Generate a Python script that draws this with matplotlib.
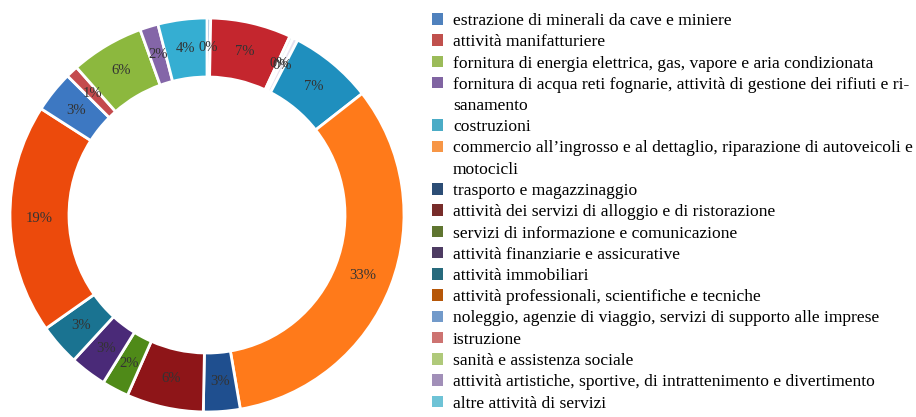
import matplotlib
matplotlib.use("Agg")
import matplotlib.pyplot as plt
from matplotlib.patches import Patch

# settori (ordine della legenda = ordine in senso orario dalle ore 12)
settori = [
    "estrazione di minerali da cave e miniere",
    "attività manifatturiere",
    "fornitura di energia elettrica, gas, vapore e aria condizionata",
    "fornitura di acqua reti fognarie, attività di gestione dei rifiuti e ri-\nsanamento",
    "costruzioni",
    "commercio all\u2019ingrosso e al dettaglio, riparazione di autoveicoli e\nmotocicli",
    "trasporto e magazzinaggio",
    "attività dei servizi di alloggio e di ristorazione",
    "servizi di informazione e comunicazione",
    "attività finanziarie e assicurative",
    "attività immobiliari",
    "attività professionali, scientifiche e tecniche",
    "noleggio, agenzie di viaggio, servizi di supporto alle imprese",
    "istruzione",
    "sanità e assistenza sociale",
    "attività artistiche, sportive, di intrattenimento e divertimento",
    "altre attività di servizi",
]

quote = [0.3, 6.6, 0.3, 0.4, 6.8, 32.8, 3.0, 6.3, 2.2, 3.0, 3.4, 18.8, 3.4, 1.0, 6.0, 1.5, 4.0]

colori_fette = ["#4f81bd", "#c4262e", "#e8eef0", "#e6e0ee", "#1f8fbe", "#ff7a1a",
                "#1f4f8f", "#8e1518", "#4f8a18", "#4a2a78", "#1a7391", "#ec4a0c",
                "#3d78c2", "#c44a4d", "#8cb83e", "#8466a8", "#35aed2"]

colori_legenda = ["#4f81bd", "#c0504d", "#9bbb59", "#8064a2", "#4bacc6", "#f79646",
                  "#2c4d75", "#772c2a", "#5f7530", "#4d3b62", "#276a7c", "#b65708",
                  "#729aca", "#cd7371", "#afc97a", "#a18fb8", "#6ec3d6"]

etichette = [f"{round(q)}%" for q in quote]

plt.rcParams['font.family'] = ['Liberation Serif', 'DejaVu Serif']

fig = plt.figure(figsize=(9.16, 4.17), dpi=100)
ax = fig.add_axes([7/916, 2/417, 400/916, 400/417])

wedges, testi = ax.pie(quote, colors=colori_fette, startangle=90, counterclock=False,
                       radius=0.985, labels=etichette, labeldistance=0.85,
                       wedgeprops=dict(width=0.295, edgecolor="white", linewidth=2),
                       textprops=dict(fontsize=10.5, color="#333333"))
for t in testi:
    t.set_horizontalalignment("center")
    t.set_verticalalignment("center")
ax.set_xlim(-1, 1)
ax.set_ylim(-1, 1)
ax.set_aspect("equal")
ax.axis("off")

# una riga di legenda per ogni riga di testo: il quadratino sta sulla prima
maniglie, righe = [], []
for nome, c in zip(settori, colori_legenda):
    for i, riga in enumerate(nome.split("\n")):
        maniglie.append(Patch(facecolor=c if i == 0 else "none", edgecolor="none"))
        righe.append(riga)

fig.legend(maniglie, righe, loc="upper left", bbox_to_anchor=(432/916, 1 - 13/417),
           frameon=False, fontsize=12.6, handlelength=0.65, handleheight=0.65,
           handletextpad=0.55, labelspacing=0.3, borderaxespad=0, borderpad=0)

fig.savefig("out.png", dpi=100)
